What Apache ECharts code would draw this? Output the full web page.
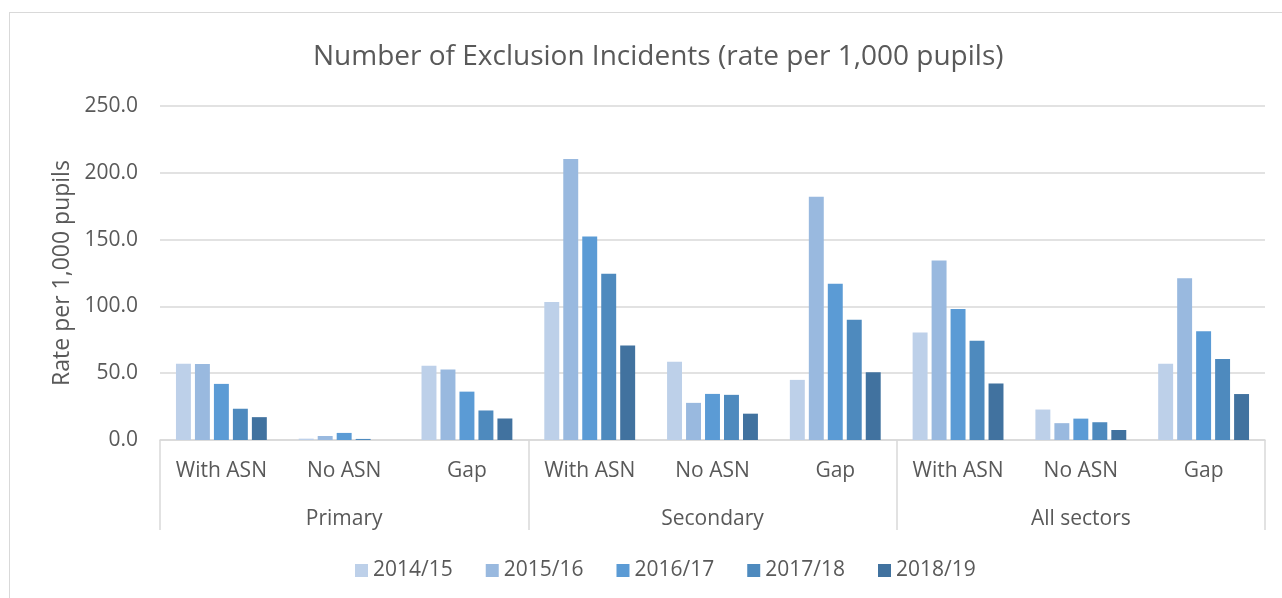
<!DOCTYPE html>
<html>
<head>
<meta charset="utf-8">
<script src="https://cdn.jsdelivr.net/npm/echarts@6/dist/echarts.min.js"></script>
<style>
  html, body { margin: 0; padding: 0; background: #fff; }
  #frame { position: absolute; left: 9px; top: 12px; width: 1290px; height: 600px; border: 1px solid #d9d9d9; }
  #chart { position: absolute; left: 0; top: 0; width: 1282px; height: 598px; }
</style>
</head>
<body>
<div id="frame"></div>
<div id="chart"></div>
<script>
// categories
const subCategories = ['With ASN', 'No ASN', 'Gap', 'With ASN', 'No ASN', 'Gap', 'With ASN', 'No ASN', 'Gap']
const groups = ['Primary', 'Secondary', 'All sectors']
const years = ['2014/15', '2015/16', '2016/17', '2017/18', '2018/19']

// rates per 1,000 pupils, one array per year (Primary x3, Secondary x3, All sectors x3)
const y2014 = [57.0, 1.0, 55.5, 103.2, 58.5, 45.0, 80.5, 22.8, 57.0]
const y2015 = [56.8, 3.0, 52.8, 210.3, 27.8, 182.0, 134.4, 12.6, 121.1]
const y2016 = [42.0, 5.3, 36.2, 152.3, 34.5, 117.0, 98.0, 16.0, 81.4]
const y2017 = [23.4, 0.8, 22.1, 124.5, 33.8, 90.0, 74.2, 13.3, 60.7]
const y2018 = [17.1, 0.0, 16.1, 70.7, 19.7, 50.7, 42.3, 7.5, 34.4]

const colors = ['#BDD0E9', '#99B9DF', '#5B9BD5', '#4E8ABE', '#41729F']
const textColor = '#595959'
const font = 'Open Sans'

const chart = echarts.init(document.getElementById('chart'))

const seriesData = [y2014, y2015, y2016, y2017, y2018]
const series = years.map((name, i) => ({
  name: name,
  type: 'bar',
  data: seriesData[i],
  barGap: '27%',
  barCategoryGap: '26%',
  itemStyle: { color: colors[i] }
}))

chart.setOption({
  animation: false,
  color: colors,
  title: {
    text: 'Number of Exclusion Incidents (rate per 1,000 pupils)',
    left: 308,
    top: 38,
    textStyle: { fontFamily: font, fontSize: 28, fontWeight: 'normal', color: textColor }
  },
  legend: {
    data: years,
    bottom: 12,
    left: 350,
    itemWidth: 13,
    itemHeight: 13,
    itemGap: 33,
    icon: 'rect',
    textStyle: { fontFamily: font, fontSize: 21, color: textColor }
  },
  grid: { left: 160, right: 17, top: 106, bottom: 158 },
  xAxis: [
    {
      type: 'category',
      data: subCategories,
      position: 'bottom',
      axisLine: { lineStyle: { color: '#d9d9d9', width: 1.5 } },
      axisTick: { show: false },
      axisLabel: { margin: 21, fontFamily: font, fontSize: 21, color: textColor, interval: 0 }
    },
    {
      type: 'category',
      data: groups,
      position: 'bottom',
      axisLine: { show: false },
      axisTick: { show: true, length: 90, lineStyle: { color: '#d9d9d9', width: 1.5 } },
      axisLabel: { margin: 69, fontFamily: font, fontSize: 21, color: textColor, interval: 0 },
      splitLine: { show: false }
    }
  ],
  yAxis: {
    type: 'value',
    min: 0,
    max: 250,
    interval: 50,
    name: 'Rate per 1,000 pupils',
    nameLocation: 'middle',
    nameGap: 86,
    nameTextStyle: { fontFamily: font, fontSize: 23, color: textColor },
    axisLine: { show: false },
    axisTick: { show: false },
    axisLabel: {
      margin: 22,
      fontFamily: font,
      fontSize: 21,
      color: textColor,
      formatter: v => v.toFixed(1)
    },
    splitLine: { lineStyle: { color: '#d9d9d9', width: 1.5 } }
  },
  series: series
})
</script>
</body>
</html>
